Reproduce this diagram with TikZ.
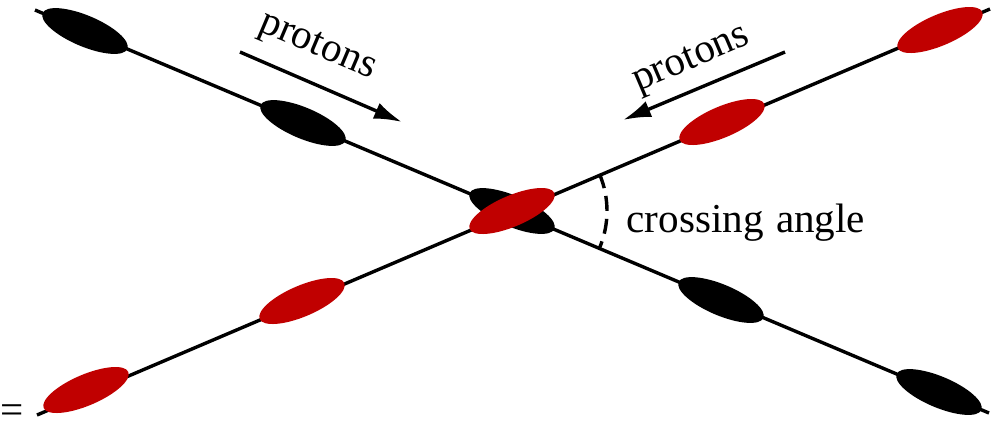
\documentclass[tikz,border=0pt]{standalone}
\usepackage{fontspec}
\setmainfont{Liberation Serif}
\usepackage{tikz}
\usetikzlibrary{shapes.geometric, arrows.meta}
\definecolor{bunchred}{RGB}{192,0,0}

\begin{document}
\begin{tikzpicture}[x=0.1mm, y=-0.1mm,
    beam/.style={line width=0.34mm},
    bunch/.style={ellipse, inner sep=0pt, minimum width=9.2mm, minimum height=3.1mm},
    lbl/.style={font=\fontsize{11.7}{14}\selectfont, inner sep=0pt}]
        \useasboundingbox (0,0) rectangle (1000,420);

        % Beam lines
        \coordinate (ip) at (512,211);
        \coordinate (bstart) at (35,10);
        \coordinate (bend) at (989,413);
        \coordinate (rstart) at (37,415);
        \coordinate (rend) at (990,9);
        \draw[beam] (bstart) -- (bend);
        \draw[beam] (rstart) -- (rend);

        % Bunches
        \node[bunch, fill=black, rotate=-22.9] (b1) at (85,31) {};
        \node[bunch, fill=black, rotate=-22.9] (b2) at (303,123) {};
        \node[bunch, fill=black, rotate=-22.9] (b3) at (ip) {};
        \node[bunch, fill=black, rotate=-22.9] (b4) at (721,300) {};
        \node[bunch, fill=black, rotate=-22.9] (b5) at (939,392) {};
        \node[bunch, fill=bunchred, rotate=23.1] (r1) at (86,390) {};
        \node[bunch, fill=bunchred, rotate=23.1] (r2) at (302,301) {};
        \node[bunch, fill=bunchred, rotate=23.1] (r3) at (ip) {};
        \node[bunch, fill=bunchred, rotate=23.1] (r4) at (722,122) {};
        \node[bunch, fill=bunchred, rotate=23.1] (r5) at (940,30) {};

        % Directions
        \coordinate (la) at (240,52);
        \coordinate (lb) at (402,122);
        \coordinate (ra) at (785,52);
        \coordinate (rb) at (623,120);
        \draw[-{Latex[length=2.8mm, width=1.7mm]}, beam] (la) -- (lb);
        \draw[-{Latex[length=2.8mm, width=1.7mm]}, beam] (ra) -- (rb);
        \node[lbl, rotate=-23] (lp) at (317,48) {protons};
        \node[lbl, rotate=23] (rp) at (692,61) {protons};

        % Crossing angle
        \draw[beam, dash pattern=on 1.5mm off 0.8mm] ([shift={(-23:95)}]ip) arc[start angle=-23, end angle=23, radius=95];
        \node[lbl, anchor=base west] (ca) at (626,232) {crossing\hspace{0.3em}angle};

        % Edge
        \node[lbl, anchor=base west] (eq) at (0,423) {=};
\end{tikzpicture}
\end{document}
